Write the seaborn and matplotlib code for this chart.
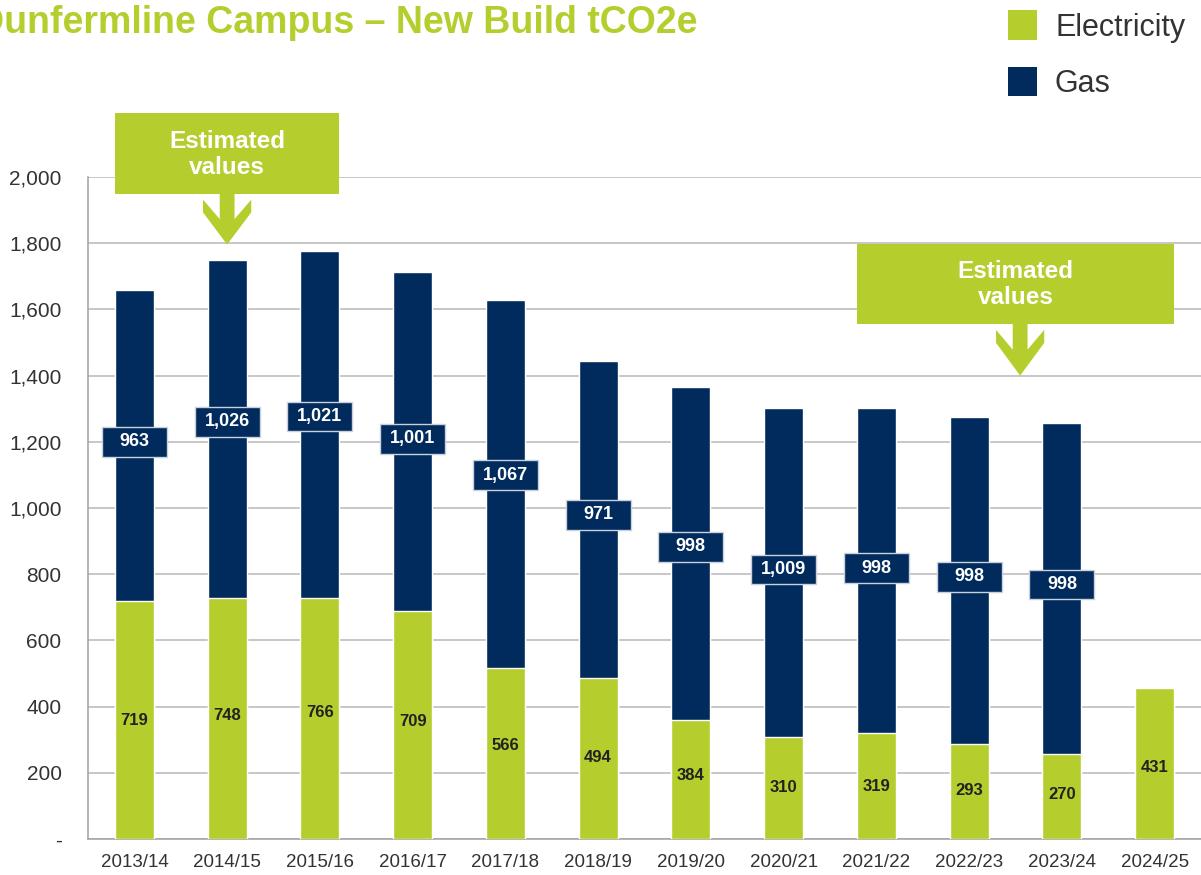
import numpy as np
import pandas as pd
import seaborn as sns
import matplotlib.pyplot as plt
from matplotlib.patches import Rectangle, Polygon
from matplotlib.ticker import FuncFormatter, FixedLocator

# data
years = ["2013/14", "2014/15", "2015/16", "2016/17", "2017/18", "2018/19",
         "2019/20", "2020/21", "2021/22", "2022/23", "2023/24", "2024/25"]
# bar heights as drawn
elec_bar = [719, 728, 728, 689, 516, 486, 359, 308, 320, 287, 257, 456]
gas_bar = [939, 1021, 1048, 1023, 1112, 958, 1006, 994, 982, 987, 999, 0]
# printed labels
elec_lab = [719, 748, 766, 709, 566, 494, 384, 310, 319, 293, 270, 431]
gas_lab = [963, 1026, 1021, 1001, 1067, 971, 998, 1009, 998, 998, 998, None]

GREEN = "#B5CE2E"
NAVY = "#002B5C"
TXT = "#333333"
W, H = 1201, 875

sns.set_style("white")
plt.rcParams['font.family'] = ['Liberation Sans', 'DejaVu Sans']

df = pd.DataFrame({"year": years, "elec": elec_bar, "gas": gas_bar})
df["total"] = df["elec"] + df["gas"]

fig = plt.figure(figsize=(12.01, 8.75), dpi=100)
ax = fig.add_axes([88 / W, 1 - 839 / H, 1 - 88 / W, (839 - 177) / H])

sns.barplot(data=df, x="year", y="total", color=NAVY, saturation=1, width=0.42, ax=ax, zorder=2)
sns.barplot(data=df, x="year", y="elec", color=GREEN, saturation=1, width=0.42, ax=ax, zorder=3)

ax.set_xlim(-0.5, len(years) - 0.5)
ax.set_ylim(0, 2000)
ax.set_yticks(np.arange(0, 2001, 200))
ax.yaxis.set_major_formatter(FuncFormatter(lambda v, p: "-" if v == 0 else f"{int(v):,}"))
ax.yaxis.grid(True, color="#b8b8b8", lw=1.1, zorder=0)
ax.set_axisbelow(True)
ax.set_xlabel("")
ax.set_ylabel("")

for s in ["top", "right"]:
    ax.spines[s].set_visible(False)
for s in ["left", "bottom"]:
    ax.spines[s].set_color("#a0a0a0")
    ax.spines[s].set_linewidth(1.1)

ax.tick_params(axis="y", length=7, width=1.1, color="#a0a0a0", labelsize=15, labelcolor=TXT, pad=12)
ax.tick_params(axis="x", which="major", length=0, labelsize=13.5, labelcolor=TXT, pad=11)
ax.xaxis.set_minor_locator(FixedLocator(np.arange(-0.5, len(years), 1.0)))
ax.tick_params(axis="x", which="minor", length=11.5, width=1.1, color="#a0a0a0")

# value labels
for i in range(len(years)):
    e = elec_lab[i]
    ax.text(i, e / 2, f"{e:,}", ha="center", va="center", fontsize=12,
            fontweight="bold", color="#222222", zorder=5)
    g = gas_lab[i]
    if g is None:
        continue
    yc = e + g / 2
    ax.add_patch(Rectangle((i - 0.35, yc - 45), 0.70, 90, facecolor=NAVY,
                           edgecolor="#c9d1dc", lw=1, zorder=4))
    ax.text(i, yc, f"{g:,}", ha="center", va="center", fontsize=13,
            fontweight="bold", color="white", zorder=5)


def estimate_note(xc, w, yb, tip_y, ax_off=0.0):
    # green box with notched down arrow, in data coords
    h = 242
    ax.add_patch(Rectangle((xc - w / 2, yb), w, h, facecolor=GREEN, edgecolor="none",
                           clip_on=False, zorder=6))
    ax.text(xc, yb + h / 2 - 3, "Estimated\nvalues", ha="center", va="center", fontsize=17.5,
            fontweight="bold", color="white", linespacing=1.2, zorder=7, clip_on=False)
    xa = xc + ax_off
    sw, ww = 0.08, 0.26
    d = yb - tip_y
    pts = [(xa - sw, yb), (xa + sw, yb), (xa + sw, yb - 0.5 * d), (xa + ww, yb - 0.12 * d),
           (xa + ww, yb - 0.37 * d), (xa, tip_y), (xa - ww, yb - 0.37 * d),
           (xa - ww, yb - 0.12 * d), (xa - sw, yb - 0.5 * d)]
    ax.add_patch(Polygon(pts, closed=True, facecolor=GREEN, edgecolor="none",
                         clip_on=False, zorder=6))


estimate_note(1.0, 2.42, 1950, 1796)
estimate_note(9.5, 3.41, 1557, 1400, ax_off=0.05)

fig.text(-0.019, 1 - 23 / H, "Dunfermline Campus \u2013 New Build tCO2e", ha="left", va="center",
         fontsize=27, fontweight="bold", color=GREEN)

# legend
for lab, col, y0, y1, yb in [("Electricity", GREEN, 10, 40, 36), ("Gas", NAVY, 67, 96, 92)]:
    fig.add_artist(Rectangle((1008 / W, 1 - y1 / H), 29 / W, (y1 - y0) / H,
                             facecolor=col, edgecolor="none", transform=fig.transFigure))
    fig.text(1055 / W, 1 - yb / H, lab, ha="left", va="baseline",
             fontsize=22, color=TXT)

fig.savefig("out.png", dpi=100)
